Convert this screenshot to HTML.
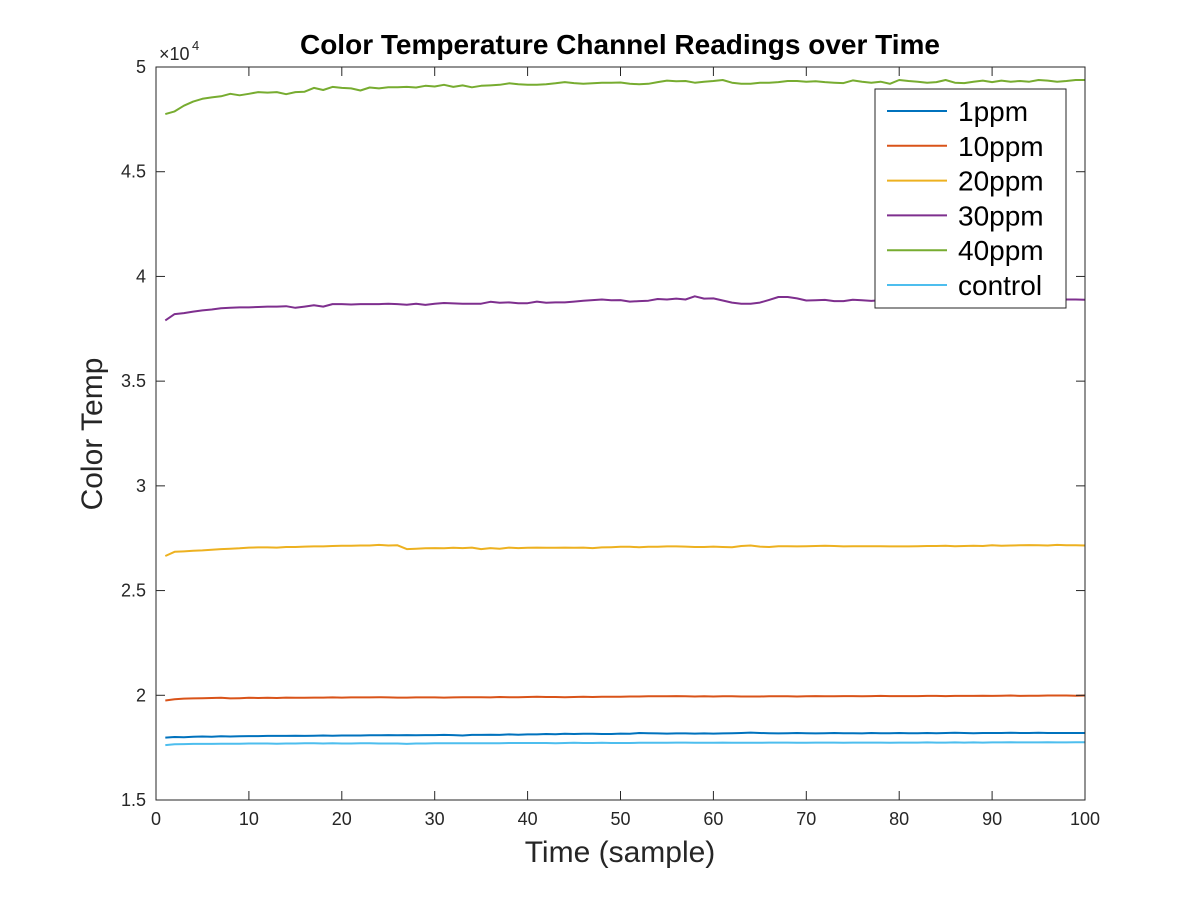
<!DOCTYPE html>
<html><head><meta charset="utf-8"><style>
body{margin:0;background:#fff;}
svg{display:block;font-family:"Liberation Sans",Arial,sans-serif;}
</style></head><body>
<svg id="chart" width="1200" height="900">
<rect width="1200" height="900" fill="#fff"/>
<g id="grid"></g>
<g id="series"></g>
<g id="axes"></g>
</svg>
<script>
const xTicks=[0,10,20,30,40,50,60,70,80,90,100];
const yTicks=[15000,20000,25000,30000,35000,40000,45000,50000];
const yTickLabels=["1.5","2","2.5","3","3.5","4","4.5","5"];
const seriesNames=["1ppm","10ppm","20ppm","30ppm","40ppm","control"];
const seriesColors=["#0072bd","#d95319","#edb120","#7e2f8e","#77ac30","#4dbeee"];
const s40=[47750,47880,48150,48350,48480,48550,48600,48720,48650,48720,48800,48780,48800,48700,48800,48820,49000,48900,49050,49000,48980,48880,49020,48980,49030,49030,49050,49020,49100,49070,49150,49050,49120,49030,49100,49120,49150,49220,49180,49150,49150,49180,49220,49280,49230,49200,49220,49250,49250,49260,49200,49180,49200,49280,49350,49320,49330,49250,49300,49330,49380,49250,49200,49200,49250,49250,49280,49330,49330,49300,49320,49280,49250,49230,49360,49300,49250,49300,49200,49380,49330,49300,49250,49280,49380,49250,49230,49300,49350,49280,49350,49300,49330,49300,49380,49350,49300,49330,49380,49380];
const s30=[37900,38200,38250,38320,38380,38420,38480,38500,38520,38520,38540,38560,38560,38580,38500,38560,38620,38560,38680,38680,38660,38680,38680,38680,38700,38680,38650,38700,38640,38700,38730,38710,38700,38700,38700,38790,38740,38760,38720,38720,38800,38740,38760,38760,38800,38840,38870,38900,38860,38870,38800,38820,38840,38920,38900,38940,38900,39050,38940,38950,38850,38750,38700,38700,38750,38880,39020,39020,38950,38850,38860,38880,38820,38820,38890,38860,38830,38860,38900,38880,38940,38950,38900,38900,38900,38880,38900,38900,38900,38880,38900,38900,38900,38890,38900,38900,38900,38900,38900,38890];
const s20=[26650,26850,26870,26900,26920,26950,26980,27000,27020,27050,27060,27060,27050,27080,27080,27100,27110,27110,27130,27140,27140,27150,27150,27180,27150,27160,26980,27000,27020,27030,27020,27040,27030,27050,26980,27030,27000,27050,27030,27040,27050,27040,27040,27050,27040,27050,27030,27060,27070,27090,27090,27070,27090,27090,27110,27110,27100,27080,27080,27100,27080,27070,27130,27150,27100,27080,27120,27120,27110,27120,27130,27140,27130,27110,27120,27120,27120,27120,27110,27110,27110,27120,27130,27130,27140,27120,27130,27140,27130,27160,27140,27150,27160,27170,27160,27150,27180,27160,27160,27150];
const s10=[19750,19810,19840,19850,19860,19870,19880,19850,19860,19880,19870,19880,19870,19890,19880,19880,19890,19890,19900,19890,19900,19900,19900,19910,19900,19890,19890,19900,19900,19900,19890,19900,19910,19910,19910,19900,19920,19910,19910,19920,19930,19920,19920,19910,19920,19930,19920,19930,19930,19930,19940,19940,19950,19950,19950,19960,19950,19940,19950,19940,19950,19950,19940,19940,19940,19950,19950,19950,19940,19950,19960,19950,19950,19960,19960,19950,19960,19970,19960,19960,19960,19960,19970,19970,19960,19970,19970,19970,19980,19970,19980,19990,19970,19980,19980,19990,19990,19990,19980,19990];
const s1=[17980,18010,18000,18020,18030,18020,18040,18030,18040,18050,18050,18060,18060,18060,18070,18060,18070,18080,18070,18080,18080,18080,18090,18090,18100,18090,18100,18090,18100,18100,18110,18100,18080,18110,18110,18120,18110,18130,18120,18130,18130,18150,18140,18160,18150,18160,18160,18150,18150,18170,18160,18200,18190,18180,18170,18180,18180,18170,18180,18170,18180,18190,18200,18220,18200,18190,18180,18190,18200,18190,18180,18190,18200,18190,18190,18180,18200,18190,18190,18200,18190,18190,18200,18190,18200,18210,18200,18190,18200,18200,18200,18210,18200,18200,18210,18200,18200,18200,18200,18200];
const sc=[17620,17660,17670,17680,17680,17680,17690,17690,17690,17700,17700,17700,17690,17700,17700,17710,17710,17700,17710,17700,17700,17710,17710,17700,17700,17700,17680,17700,17700,17710,17710,17710,17710,17710,17710,17710,17710,17720,17720,17720,17720,17720,17710,17720,17730,17720,17720,17730,17720,17720,17720,17730,17730,17730,17730,17740,17740,17730,17730,17730,17740,17730,17730,17730,17730,17740,17740,17740,17730,17730,17740,17740,17740,17730,17740,17740,17740,17740,17730,17740,17740,17740,17750,17740,17740,17750,17740,17750,17740,17750,17750,17760,17750,17750,17750,17760,17750,17750,17760,17760];
const seriesData=[s1,s10,s20,s30,s40,sc];
const X0=156,X1=1085,Y0=800,Y1=67;
const xs=v=>X0+(v-0)/100*(X1-X0);
const ys=v=>Y0-(v-15000)/35000*(Y0-Y1);
const NS="http://www.w3.org/2000/svg";
function mk(tag,attrs,parent,text){const e=document.createElementNS(NS,tag);for(const k in attrs)e.setAttribute(k,attrs[k]);if(text!==undefined)e.textContent=text;parent.appendChild(e);return e;}
const ser=document.getElementById('series'),ax=document.getElementById('axes');
seriesData.forEach((d,i)=>{
  const pts=d.map((v,j)=>xs(j+1).toFixed(1)+","+ys(v).toFixed(1)).join(" ");
  const pl=mk('polyline',{points:pts,fill:'none',stroke:seriesColors[i],'stroke-width':2,'stroke-linejoin':'round'},ser);
  
  
});
const box=mk('rect',{x:X0,y:Y1,width:X1-X0,height:Y0-Y1,fill:'none',stroke:'#262626','stroke-width':1},ax);


xTicks.forEach(t=>{
  const x=xs(t);
  mk('line',{x1:x,x2:x,y1:Y0,y2:Y0-9,stroke:'#262626'},ax);
  mk('line',{x1:x,x2:x,y1:Y1,y2:Y1+9,stroke:'#262626'},ax);
  const tl=mk('text',{x:x,y:Y0+25,'text-anchor':'middle','font-size':18,fill:'#262626'},ax,String(t));
  
  
});
yTicks.forEach((t,i)=>{
  const y=ys(t);
  mk('line',{x1:X0,x2:X0+9,y1:y,y2:y,stroke:'#262626'},ax);
  mk('line',{x1:X1,x2:X1-9,y1:y,y2:y,stroke:'#262626'},ax);
  const tl=mk('text',{x:X0-10,y:y+6,'text-anchor':'end','font-size':18,fill:'#262626'},ax,yTickLabels[i]);
  
  
});
const ex=mk('text',{x:159,y:60,'font-size':18,fill:'#262626'},ax,'×10');


mk('text',{x:192,y:50,'font-size':13,fill:'#262626'},ax,'4');
const ti=mk('text',{x:620,y:54,'text-anchor':'middle','font-size':28,'font-weight':'bold',fill:'#000'},ax,'Color Temperature Channel Readings over Time');


const xt=mk('text',{x:620,y:862,'text-anchor':'middle','font-size':30,fill:'#262626'},ax,'Time (sample)');


const yt=mk('text',{x:102,y:434,'text-anchor':'middle','font-size':30,fill:'#262626',transform:'rotate(-90 102 434)'},ax,'Color Temp');


const lg=mk('g',{},ax);


mk('rect',{x:875,y:89,width:191,height:219,fill:'#fff',stroke:'#262626','stroke-width':1},lg);
seriesNames.forEach((n,i)=>{
  const y=111+i*34.8;
  const ln=mk('line',{x1:887,x2:947,y1:y,y2:y,stroke:seriesColors[i],'stroke-width':2},lg);
  
  
  const t=mk('text',{x:958,y:y+10,'font-size':28,fill:'#000'},lg,n);
  
  
});
</script>
</body></html>
